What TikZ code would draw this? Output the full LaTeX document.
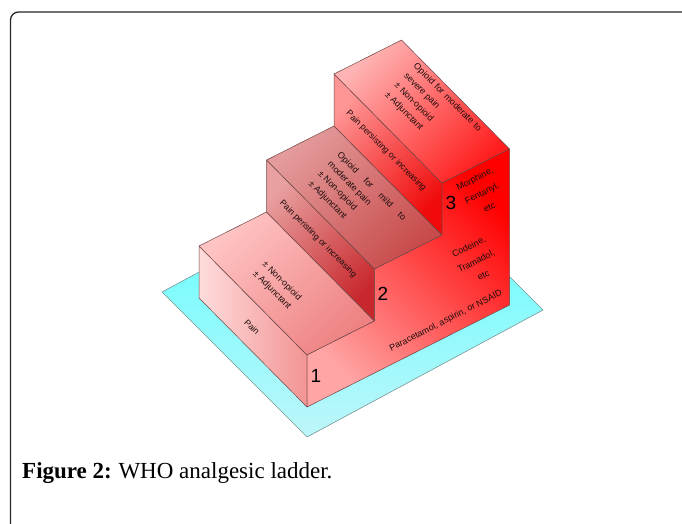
\documentclass[tikz,border=0pt]{standalone}
\usepackage{fontspec}
\setmainfont{Liberation Serif}
\newfontfamily\labelfont{Liberation Sans}
\definecolor{edgecol}{RGB}{110,70,70}
\definecolor{platetop}{RGB}{80,255,255}
\definecolor{platebot}{RGB}{190,246,250}
\definecolor{platedge}{RGB}{120,150,150}
\definecolor{rOneA}{RGB}{255,220,220}
\definecolor{rOneB}{RGB}{242,148,148}
\definecolor{tOneA}{RGB}{255,195,195}
\definecolor{tOneB}{RGB}{238,130,130}
\definecolor{rTwoA}{RGB}{232,160,160}
\definecolor{rTwoB}{RGB}{200,40,45}
\definecolor{tTwoA}{RGB}{228,155,155}
\definecolor{tTwoB}{RGB}{200,75,75}
\definecolor{rThrA}{RGB}{255,150,150}
\definecolor{rThrB}{RGB}{240,10,10}
\definecolor{tThrA}{RGB}{255,180,180}
\definecolor{tThrB}{RGB}{255,30,30}
\definecolor{sideA}{RGB}{255,165,165}
\definecolor{sideB}{RGB}{255,0,0}
\definecolor{txtcol}{RGB}{30,12,12}
\begin{document}
\begin{tikzpicture}[x=1pt,y=1pt,
  face/.style={draw=edgecol, line width=0.5pt, line join=round},
  treadtext/.style={font=\labelfont\fontsize{9}{13.5}\selectfont, text=txtcol, inner sep=0pt, align=left, rotate=-45},
  risertext/.style={font=\labelfont\fontsize{8.7}{12.5}\selectfont, text=txtcol, inner sep=0pt, rotate=-45},
  sidetext/.style={font=\labelfont\fontsize{9}{16}\selectfont, text=txtcol, inner sep=0pt, align=center, rotate=27},
  numtext/.style={font=\labelfont\fontsize{19}{19}\selectfont, text=black, inner sep=0pt}
]
\useasboundingbox (0,0) rectangle (682,523);
% frame
\draw[line width=1.3pt, rounded corners=8pt, black!85] (10.5,-5) -- (10.5,511) -- (690,511);
% base plate
\coordinate (PL) at (162,231);
\coordinate (PB) at (307,86);
\coordinate (PR) at (543,213);
\coordinate (PT) at (398,358);
\draw[draw=platedge, line width=0.6pt, top color=platetop, bottom color=platebot] (PL) -- (PB) -- (PR) -- (PT) -- cycle;
% staircase vertices
\coordinate (S0) at (307,116);
\coordinate (S1) at (509.5,218);
\coordinate (S2) at (509.5,374);
\coordinate (S3) at (442,340);
\coordinate (S4) at (442,288);
\coordinate (S5) at (374.5,254);
\coordinate (S6) at (374.5,202);
\coordinate (S7) at (307,168);
\coordinate (B0) at (199,225);
\coordinate (B7) at (199,277);
\coordinate (B6) at (266.5,311);
\coordinate (B5) at (266.5,363);
\coordinate (B4) at (334,397);
\coordinate (B3) at (334,449);
\coordinate (B2) at (401.5,483);
% riser 1
\draw[face, left color=rOneA, right color=rOneB] (B0) -- (S0) -- (S7) -- (B7) -- cycle;
% tread 1
\draw[face, top color=tOneA, bottom color=tOneB, shading angle=45] (B7) -- (S7) -- (S6) -- (B6) -- cycle;
% riser 2
\draw[face, top color=rTwoA, bottom color=rTwoB, shading angle=45] (B6) -- (S6) -- (S5) -- (B5) -- cycle;
% tread 2
\draw[face, top color=tTwoA, bottom color=tTwoB, shading angle=45] (B5) -- (S5) -- (S4) -- (B4) -- cycle;
% riser 3
\draw[face, top color=rThrA, bottom color=rThrB, shading angle=45] (B4) -- (S4) -- (S3) -- (B3) -- cycle;
% tread 3
\draw[face, top color=tThrA, bottom color=tThrB, shading angle=45] (B3) -- (S3) -- (S2) -- (B2) -- cycle;
% side face
\draw[face, top color=sideB, bottom color=sideA, shading angle=-45] (S0) -- (S1) -- (S2) -- (S3) -- (S4) -- (S5) -- (S6) -- (S7) -- cycle;
% riser texts
\node[risertext] (pain) at (252,196) {Pain};
\node[risertext] (persist2) at (318,284) {Pain peristing or increasing};
\node[risertext] (persist3) at (386,372) {Pain persisting or increasing};
% tread texts
\node[treadtext] (step1) at (277,237) {± Non-opioid\\± Adjunctant};
\node[treadtext] (step2) at (357,322) {\hbox to 93pt{Opioid\hfill for\hfill mild\hfill to}\\moderate pain\\± Non-opioid\\± Adjunctant};
\node[treadtext] (step3) at (433,411) {\hbox to 92pt{Opioid\hfill for\hfill moderate\hfill to}\\severe pain\\± Non-opioid\\± Adjunctant};
% side texts
\node[sidetext] (drug1) at (446,202) {Paracetamol, aspirin, or NSAID};
\node[sidetext] (drug2) at (476,262) {Codeine,\\Tramadol,\\etc};
\node[sidetext] (drug3) at (482,330) {Morphine,\\Fentanyl,\\etc};
% numbers
\node[numtext] (n1) at (316,147) {1};
\node[numtext] (n2) at (383,229) {2};
\node[numtext] (n3) at (451,320) {3};
% caption
\node[anchor=base west, inner sep=0pt, font=\fontsize{23}{23}\selectfont] (cap) at (22,45) {\textbf{Figure 2:}\hspace{-1pt} WHO analgesic ladder.};
\end{tikzpicture}
\end{document}
